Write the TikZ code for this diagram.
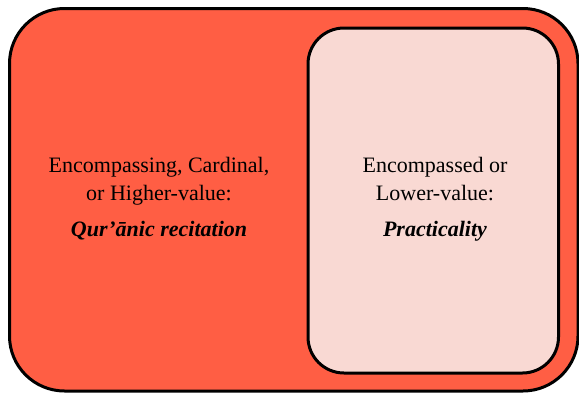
\documentclass[tikz,border=0pt]{standalone}
\usepackage{fontspec}
\setmainfont{Liberation Serif}
\definecolor{outerred}{RGB}{255,94,68}
\definecolor{innerpink}{RGB}{249,217,211}
\begin{document}
\begin{tikzpicture}[x=1pt,y=-1pt,
  box/.style={draw=black,line width=3pt},
  label/.style={align=center,font=\fontsize{22}{27}\selectfont,inner sep=0pt,anchor=base}]
\useasboundingbox (0,0) rectangle (579,394);
\draw[box,fill=outerred,rounded corners=55pt] (9.5,8.5) rectangle (578,391) ;
\node[box,fill=innerpink,rounded corners=36pt,outer sep=0pt,minimum width=250.5pt,minimum height=345pt,anchor=north west] (inner) at (308,28) {};
\node[label] (l1) at (159,172.5) {Encompassing, Cardinal,};
\node[label] (l2) at (159,200) {or Higher-value:};
\node[label] (l3) at (159,236) {\textbf{\textit{Qur’ānic recitation}}};
\node[label] (r1) at (435,172.5) {Encompassed or};
\node[label] (r2) at (435,200) {Lower-value:};
\node[label] (r3) at (435,236) {\textbf{\textit{Practicality}}};
\end{tikzpicture}
\end{document}
